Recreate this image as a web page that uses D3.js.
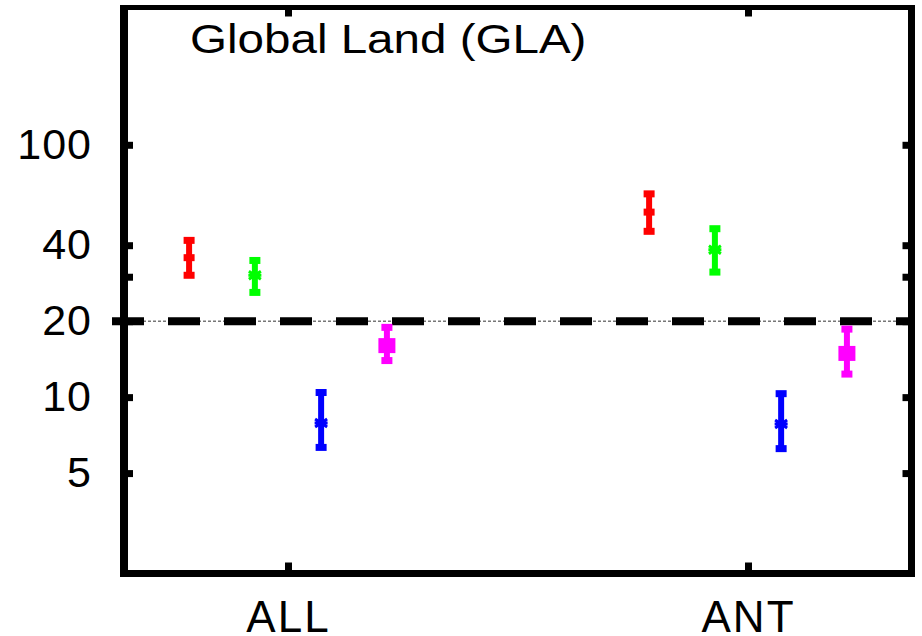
<!DOCTYPE html>
<html>
	<head>
		<meta charset="utf-8">
		<title>Global Land (GLA)</title>
		<style>
			body {
			  margin: 0;
			  background: #fff;
			  overflow: hidden;
			}
			svg {
			  position: absolute;
			  font-family: "Liberation Sans", Arial, sans-serif;
			}
		</style>
		<script src="https://cdn.jsdelivr.net/npm/d3@7/dist/d3.min.js" charset="utf-8"></script>
	</head>
	<body>
		<script>

		// categories on the x axis
		var categories = ["ALL", "ANT"];

		// y ticks (log scale), 30 has no label
		var yTicks = [5, 10, 20, 30, 40, 100];

		// reference line
		var refValue = 20;

		// each series: centre value, lower and upper end of the error bar
		var redMid  = [35.7, 54.1],  redLow  = [30.4, 45.4],  redHigh  = [41.8, 63.9];
		var greenMid = [30.4, 38.4], greenLow = [26.0, 31.3], greenHigh = [34.8, 46.5];
		var blueMid = [7.9, 7.83],   blueLow = [6.32, 6.25],  blueHigh = [10.43, 10.32];
		var magMid  = [16.0, 14.9],  magLow  = [13.96, 12.34], magHigh  = [18.9, 18.6];

		var w = 922,
			h = 636;

		// plot frame (window.top is reserved, so use other names)
		var frameL = 124, frameR = 911.5, frameT = 7.5, frameB = 573.5;

		var svg = d3.select("body").append("svg")
			.attr("width", w)
			.attr("height", h);

		var x = d3.scaleLinear()
			.domain([0.6435, 2.3554])
			.range([frameL, frameR]);

		var y = d3.scaleLog()
			.domain([2, 350])
			.range([frameB, frameT]);

		var series = [
			{ color: "#ff0000", mark: "bar",    off: -0.215, mid: redMid,   lo: redLow,   hi: redHigh },
			{ color: "#00ff00", mark: "star",   off: -0.072, mid: greenMid, lo: greenLow, hi: greenHigh },
			{ color: "#0000ff", mark: "star",   off:  0.072, mid: blueMid,  lo: blueLow,  hi: blueHigh },
			{ color: "#ff00ff", mark: "square", off:  0.215, mid: magMid,   lo: magLow,   hi: magHigh }
		];

		// reference line at 20: thin grey dots plus thick black dashes
		svg.append("line")
			.attr("x1", frameL + 4).attr("x2", frameR - 3)
			.attr("y1", y(refValue)).attr("y2", y(refValue))
			.attr("stroke", "#777")
			.attr("stroke-width", 1.5)
			.attr("stroke-dasharray", "3,2");

		svg.append("line")
			.attr("x1", 112).attr("x2", frameR)
			.attr("y1", y(refValue)).attr("y2", y(refValue))
			.attr("stroke", "#000")
			.attr("stroke-width", 8)
			.attr("stroke-dasharray", "32,24");

		// error bars
		series.forEach(function(s) {
			var g = svg.append("g").attr("fill", s.color).attr("stroke", s.color);
			categories.forEach(function(c, i) {
				var cx = x(i + 1 + s.off);
				g.append("line")
					.attr("x1", cx).attr("x2", cx)
					.attr("y1", y(s.lo[i])).attr("y2", y(s.hi[i]))
					.attr("stroke-width", 6);
				[s.lo[i], s.hi[i]].forEach(function(v) {
					g.append("rect")
						.attr("x", cx - 5.5).attr("y", y(v) - 3.5)
						.attr("width", 11).attr("height", 7)
						.attr("stroke", "none");
				});
				var cy = y(s.mid[i]);
				if (s.mark === "bar") {
					g.append("rect")
						.attr("x", cx - 5.5).attr("y", cy - 3.5)
						.attr("width", 11).attr("height", 7)
						.attr("stroke", "none");
				} else if (s.mark === "square") {
					g.append("rect")
						.attr("x", cx - 8.5).attr("y", cy - 7.5)
						.attr("width", 17).attr("height", 15)
						.attr("stroke", "none");
				} else {
					g.append("path")
						.attr("d", "M" + (cx - 6) + "," + (cy - 4) + "L" + (cx + 6) + "," + (cy + 4) +
							"M" + (cx - 6) + "," + (cy + 4) + "L" + (cx + 6) + "," + (cy - 4) +
							"M" + (cx - 6.5) + "," + cy + "L" + (cx + 6.5) + "," + cy)
						.attr("fill", "none")
						.attr("stroke-width", 3);
				}
			});
		});

		// axes
		var yLeft = d3.axisLeft(y)
			.tickValues(yTicks)
			.tickFormat(function(d) { return d === 30 ? "" : d; })
			.tickSizeInner(-9)
			.tickSizeOuter(0)
			.tickPadding(32);

		var gl = svg.append("g").attr("transform", "translate(" + frameL + ",0)").call(yLeft);

		var yRight = d3.axisRight(y)
			.tickValues(yTicks)
			.tickFormat("")
			.tickSizeInner(-9)
			.tickSizeOuter(0);

		var gr = svg.append("g").attr("transform", "translate(" + frameR + ",0)").call(yRight);

		var xBottom = d3.axisBottom(x)
			.tickValues([1, 2])
			.tickFormat(function(d) { return categories[d - 1]; })
			.tickSizeInner(-11)
			.tickSizeOuter(0)
			.tickPadding(27);

		var gb = svg.append("g").attr("transform", "translate(0," + frameB + ")").call(xBottom);

		var xTop = d3.axisTop(x)
			.tickValues([1, 2])
			.tickFormat("")
			.tickSizeInner(-9)
			.tickSizeOuter(0);

		var gt = svg.append("g").attr("transform", "translate(0," + frameT + ")").call(xTop);

		[gl, gr, gb, gt].forEach(function(g) {
			g.select(".domain").remove();
			g.selectAll(".tick line").attr("stroke", "#000").attr("stroke-width", 7);
			g.selectAll(".tick text")
				.attr("fill", "#000")
				.attr("font-family", "'Liberation Sans', Arial, sans-serif");
		});
		gl.selectAll(".tick text").attr("font-size", 43).attr("letter-spacing", 1);
		gb.selectAll(".tick text").attr("font-size", 44).attr("letter-spacing", 2);

		// frame
		svg.append("line").attr("x1", frameL).attr("x2", frameL).attr("y1", frameT - 2.5).attr("y2", frameB + 3.5)
			.attr("stroke", "#000").attr("stroke-width", 8);
		svg.append("line").attr("x1", frameR).attr("x2", frameR).attr("y1", frameT - 2.5).attr("y2", frameB + 3.5)
			.attr("stroke", "#000").attr("stroke-width", 7);
		svg.append("line").attr("x1", frameL).attr("x2", frameR).attr("y1", frameT).attr("y2", frameT)
			.attr("stroke", "#000").attr("stroke-width", 5);
		svg.append("line").attr("x1", frameL).attr("x2", frameR).attr("y1", frameB).attr("y2", frameB)
			.attr("stroke", "#000").attr("stroke-width", 7);

		// title
		svg.append("text")
			.attr("transform", "translate(190,53) scale(1.16,1)")
			.attr("font-size", 41)
			.attr("fill", "#000")
			.text("Global Land (GLA)");

		</script>
	</body>
</html>
